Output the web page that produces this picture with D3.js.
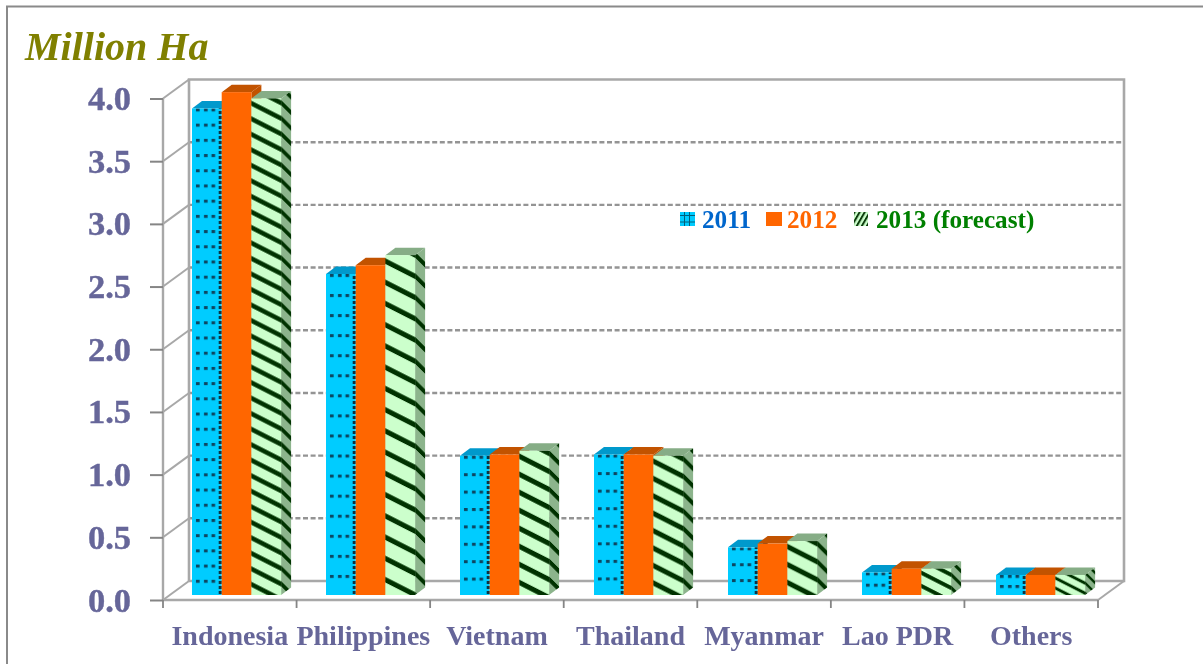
<!DOCTYPE html>
<html><head><meta charset="utf-8">
<script src="https://cdn.jsdelivr.net/npm/d3@7/dist/d3.min.js"></script>
<style>html,body{margin:0;padding:0;background:#fff}svg{display:block}text{font-family:"Liberation Serif",serif;font-weight:bold}</style>
</head><body><div id="chart"></div>
<script>
const categories = ["Indonesia","Philippines","Vietnam","Thailand","Myanmar","Lao PDR","Others"];
const values2011 = [3.88,2.56,1.11,1.12,0.38,0.18,0.16];
const values2012 = [4.01,2.63,1.12,1.12,0.41,0.21,0.16];
const values2013 = [3.96,2.71,1.15,1.11,0.43,0.21,0.16];
const seriesNames = ["2011","2012","2013 (forecast)"];
const yTicks = [0,0.5,1,1.5,2,2.5,3,3.5,4];
const textureRepeats = [32,16,8,8,3,2,2];

const W=1203,H=664;
const svg=d3.select("#chart").append("svg").attr("width",W).attr("height",H);
const defs=svg.append("defs");
const f=defs.append("filter").attr("id","soft").attr("x",0).attr("y",0).attr("width",1).attr("height",1);
f.append("feGaussianBlur").attr("stdDeviation",0.55);
const root=svg.append("g").attr("filter","url(#soft)");
root.append("rect").attr("width",W).attr("height",H).attr("fill","#fff");

// geometry
const x0=163,x1=1098,dx=26,dy=-19;
const x=d3.scaleBand().domain(categories).range([x0,x1]);
const y=d3.scaleLinear().domain([0,4]).range([600,98.5]);
const step=x.bandwidth();
const barStart=192,barStep=134;
const xBar=d3.scaleBand().domain(categories).range([barStart,barStart+barStep*categories.length]);
const barW=29.7,bd=10,bdy=7.5,baseY=595;
const h=d3.scaleLinear().domain([0,1]).range([0,125.4]);

// textures are stretched with each bar, so the tile depends on the bar's height
function bluePattern(i){
  const bh=h(values2011[i]), tile=bh/textureRepeats[i];
  const p=defs.append("pattern").attr("id","blue"+i).attr("patternUnits","userSpaceOnUse")
    .attr("x",xBar(categories[i])).attr("y",baseY-bh).attr("width",barW).attr("height",tile);
  p.append("rect").attr("width",barW).attr("height",tile).attr("fill","#00ccff");
  [4,12,19.5].forEach(c=>p.append("rect").attr("x",c).attr("y",0).attr("width",3.6).attr("height",3).attr("fill","#0a4560"));
}
function greenPattern(i,id,bg,skew,ox){
  const bh=h(values2013[i]), tile=bh/textureRepeats[i];
  const top=baseY-bh+(ox>0?barW*0.5:0);
  const xx=xBar(categories[i])+2*barW+ox;
  const p=defs.append("pattern").attr("id",id+i).attr("patternUnits","userSpaceOnUse")
    .attr("width",50).attr("height",tile)
    .attr("patternTransform",`translate(${xx},${top}) skewY(${skew})`);
  p.append("rect").attr("width",50).attr("height",tile).attr("fill",bg);
  const th=Math.min(5.6,tile*0.33);
  p.append("rect").attr("y",tile*0.15).attr("width",50).attr("height",th).attr("fill","#003300");
}
categories.forEach((c,i)=>{bluePattern(i);greenPattern(i,"green","#ccffcc",27,0);greenPattern(i,"gside","#8cb48c",45,barW);});
const dotsS=defs.append("pattern").attr("id","blueEdge").attr("patternUnits","userSpaceOnUse")
  .attr("x",0).attr("y",baseY).attr("width",4).attr("height",5);
dotsS.append("rect").attr("x",0).attr("y",1).attr("width",4).attr("height",3).attr("fill","#0a3040");
const lg=defs.append("pattern").attr("id","legHatch").attr("patternUnits","userSpaceOnUse")
  .attr("width",4.4).attr("height",4.4).attr("patternTransform","rotate(30 854 212)");
lg.append("rect").attr("width",4.4).attr("height",4.4).attr("fill","#ccffcc");
lg.append("rect").attr("width",2).attr("height",4.4).attr("fill","#0a3a0a");

// outer frame
root.append("path").attr("d",`M7,664V6.5H${W}`).attr("fill","none").attr("stroke","#8a8a8a").attr("stroke-width",2);

// title
root.append("text").attr("x",25).attr("y",60).attr("font-size",40).attr("font-style","italic").attr("fill","#808000").text("Million Ha");

// walls
const wall="#a8a8a8";
const back=g=>g.attr("fill","none").attr("stroke",wall);
root.selectAll(".grid").data(yTicks.slice(1,-1)).join("line").attr("class","grid")
  .attr("x1",x0+dx).attr("x2",x1+dx).attr("y1",d=>y(d)+dy).attr("y2",d=>y(d)+dy)
  .attr("stroke","#949494").attr("stroke-width",2.4).attr("stroke-dasharray","5 2.6");
root.selectAll(".side").data(yTicks).join("line").attr("class","side")
  .attr("x1",x0).attr("x2",x0+dx).attr("y1",d=>y(d)).attr("y2",d=>y(d)+dy)
  .attr("stroke",wall).attr("stroke-width",2);
root.append("path").attr("d",`M${x0+dx},${y(0)+dy}V${y(4)+dy}H${x1+dx}V${y(0)+dy}H${x0+dx}`).call(back).attr("stroke-width",2.6);
root.append("path").attr("d",`M${x1},${y(0)}L${x1+dx},${y(0)+dy}`).call(back).attr("stroke-width",2);

// axes
const axL=root.append("g").attr("transform",`translate(${x0},0)`).call(d3.axisLeft(y).tickValues(yTicks).tickFormat(d3.format(".1f")).tickSize(13).tickPadding(19));
axL.select(".domain").attr("stroke",wall).attr("stroke-width",2.4).attr("d",`M0,${y(4)}V${y(0)}`);
axL.selectAll(".tick line").attr("stroke","#858585").attr("stroke-width",2);
axL.selectAll("text").attr("font-size",34.5).attr("fill","#666699").attr("stroke","#666699").attr("stroke-width",0.4).attr("font-family","Liberation Serif").attr("font-weight","bold");
const axB=root.append("g").attr("transform",`translate(0,${y(0)})`).call(d3.axisBottom(x).tickSize(0).tickPadding(25));
axB.select(".domain").attr("stroke",wall).attr("stroke-width",2.4).attr("d",`M${x0},0H${x1}`);
axB.selectAll(".tick line").remove();
axB.selectAll("text").attr("font-size",28).attr("fill","#666699").attr("font-family","Liberation Serif").attr("font-weight","bold");
root.selectAll(".xt").data(d3.range(categories.length+1)).join("line").attr("class","xt")
  .attr("x1",i=>x0+i*step).attr("x2",i=>x0+i*step).attr("y1",y(0)).attr("y2",y(0)+8)
  .attr("stroke","#858585").attr("stroke-width",1.8);

// bars
const series=[
 {vals:values2011,front:i=>`url(#blue${i})`,top:"#0099cc",side:()=>"url(#blueEdge)"},
 {vals:values2012,front:()=>"#ff6600",top:"#c25200",side:()=>"#c25200"},
 {vals:values2013,front:i=>`url(#green${i})`,top:"#86ad86",side:i=>`url(#gside${i})`}
];
series.forEach((s,si)=>{
  const g=root.append("g").attr("class","series"+si);
  const d=categories.map((c,i)=>({c,i,v:s.vals[i]}));
  const X=p=>xBar(p.c)+si*barW, T=p=>baseY-h(p.v);
  g.selectAll(".t").data(d).join("path").attr("class","t").attr("fill",s.top)
    .attr("d",p=>`M${X(p)},${T(p)}l${bd},${-bdy}h${barW}l${-bd},${bdy}z`);
  g.selectAll(".s").data(d).join("path").attr("class","s").attr("fill",p=>s.side(p.i))
    .attr("d",p=>`M${X(p)+barW},${baseY}V${T(p)}l${bd},${-bdy}V${baseY-bdy}z`);
  g.selectAll(".f").data(d).join("rect").attr("class","f").attr("fill",p=>s.front(p.i))
    .attr("x",X).attr("y",T).attr("width",barW).attr("height",p=>baseY-T(p));
  if(si===0){
    g.selectAll(".e").data(d).join("rect").attr("class","e").attr("fill","url(#blueEdge)")
      .attr("x",p=>X(p)+barW-3).attr("y",T).attr("width",3).attr("height",p=>baseY-T(p));
  }
});

// legend
const leg=[
 {sx:680,sw:15,tx:702,fill:"#00ccff",col:"#0066cc"},
 {sx:766,sw:16,tx:787,fill:"#ff6600",col:"#ff6600"},
 {sx:854,sw:14,tx:876,fill:"url(#legHatch)",col:"#008000"}
];
leg.forEach((l,i)=>{
  root.append("rect").attr("x",l.sx).attr("y",212).attr("width",l.sw).attr("height",14).attr("fill",l.fill);
  if(i===0){[215.5,222].forEach(v=>root.append("line").attr("x1",l.sx).attr("x2",l.sx+l.sw).attr("y1",v).attr("y2",v).attr("stroke","#05607c").attr("stroke-width",1));
    [684.5,689.5].forEach(v=>root.append("line").attr("x1",v).attr("x2",v).attr("y1",212).attr("y2",226).attr("stroke","#05607c").attr("stroke-width",1));}
  root.append("text").attr("x",l.tx).attr("y",228).attr("font-size",25.2).attr("fill",l.col).text(seriesNames[i]);
});
</script></body></html>
